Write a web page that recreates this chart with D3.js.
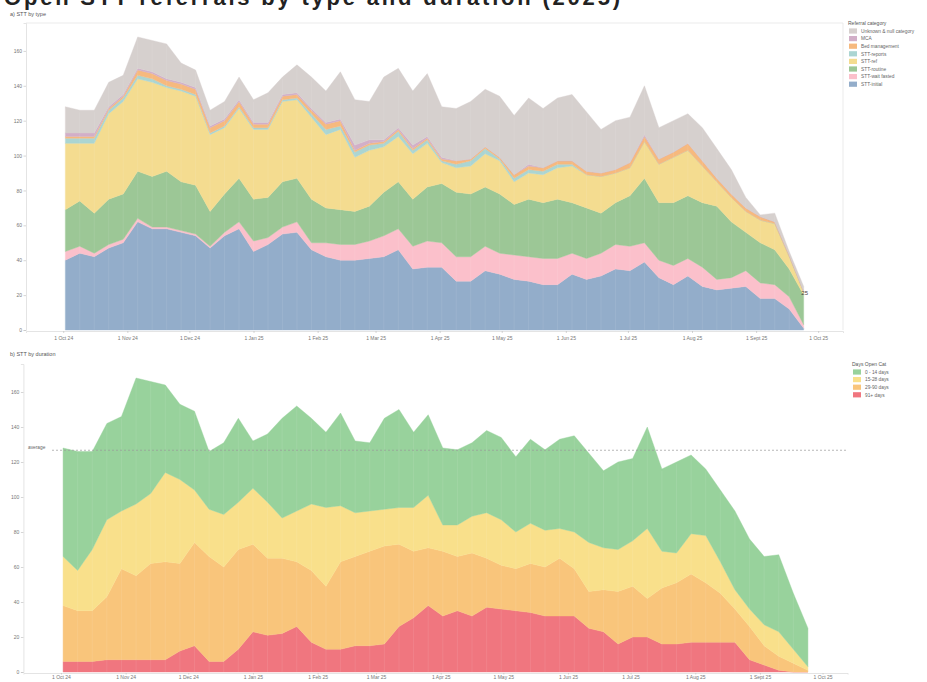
<!DOCTYPE html>
<html>
<head>
<meta charset="utf-8">
<script src="https://cdn.jsdelivr.net/npm/d3@7"></script>
<style>
  html, body { margin: 0; padding: 0; background: #fff; }
  svg { display: block; font-family: "Liberation Sans", Arial, sans-serif; }
</style>
</head>
<body>
<svg id="chart" width="927" height="682"></svg>
<script>
// Week-ending snapshots of open STT referrals
const weeks = [
  "2024-10-02","2024-10-09","2024-10-16","2024-10-23","2024-10-30",
  "2024-11-06","2024-11-13","2024-11-20","2024-11-27",
  "2024-12-04","2024-12-11","2024-12-18","2024-12-25",
  "2025-01-01","2025-01-08","2025-01-15","2025-01-22","2025-01-29",
  "2025-02-05","2025-02-12","2025-02-19","2025-02-26",
  "2025-03-05","2025-03-12","2025-03-19","2025-03-26",
  "2025-04-02","2025-04-09","2025-04-16","2025-04-23","2025-04-30",
  "2025-05-07","2025-05-14","2025-05-21","2025-05-28",
  "2025-06-04","2025-06-11","2025-06-18","2025-06-25",
  "2025-07-02","2025-07-09","2025-07-16","2025-07-23","2025-07-30",
  "2025-08-06","2025-08-13","2025-08-20","2025-08-27",
  "2025-09-03","2025-09-10","2025-09-17","2025-09-24"
];

// a) by referral category
const sttInitial     = [40,44,42,47,50,62,58,58,56,54,47,54,58,45,49,55,56,46,42,40,40,41,42,46,35,36,36,28,28,34,32,29,28,26,26,32,29,31,35,34,39,30,26,31,25,23,24,25,18,18,12,1];
const sttWaitFasted  = [5,4,2,2,2,2,1,1,1,1,1,2,4,6,4,4,6,4,8,9,9,10,12,12,13,15,14,14,14,14,12,14,14,15,15,12,12,13,14,14,11,10,11,10,11,6,6,9,9,8,7,2];
const sttRoutine     = [24,26,23,26,26,27,29,32,28,28,20,22,25,24,23,26,25,25,20,20,19,20,25,27,27,31,34,37,36,34,34,29,33,32,34,29,29,23,24,29,37,33,36,36,37,42,32,22,23,20,16,17];
const sttRef         = [38,33,40,49,53,53,54,48,52,51,44,38,40,40,39,46,45,47,42,46,31,32,26,26,26,25,12,14,16,19,19,13,15,16,18,21,19,21,17,16,21,22,26,26,21,14,14,12,13,15,7,2];
const sttReports     = [3,3,3,2,2,2,2,1,1,1,1,1,1,1,1,1,1,2,3,2,3,3,2,3,2,2,1,2,3,3,1,2,2,2,2,1,0,0,0,0,0,0,0,0,0,0,0,0,0,0,0,0];
const bedManagement  = [1,1,1,1,1,3,3,3,3,3,3,3,3,2,2,2,2,2,3,3,1,1,1,1,1,1,1,2,1,1,1,2,2,2,2,2,2,2,2,3,3,3,3,4,3,2,2,2,2,1,1,0];
const mca            = [2,2,2,1,1,1,1,1,1,1,1,1,1,1,1,1,1,1,1,1,3,2,1,1,2,1,1,0,0,0,0,0,1,0,0,0,0,0,0,0,1,0,0,0,0,0,0,0,0,0,0,0];
const unknownNull    = [15,13,13,14,11,18,18,20,11,10,9,10,13,13,17,10,16,18,18,27,26,22,36,34,31,36,29,30,33,33,35,34,38,34,36,38,34,25,28,26,28,18,18,17,19,17,14,6,1,5,2,3];

const typeNames  = ["STT-initial","STT-wait fasted","STT-routine","STT-ref","STT-reports","Bed management","MCA","Unknown & null category"];
const typeColors = ["#93adca","#fbc0cb","#9cc796","#f4dc90","#abd5d2","#f6b97e","#d2afc8","#d6d0ce"];

// b) by days open
const days91plus  = [6,6,6,7,7,7,7,7,12,15,6,6,13,23,21,22,26,17,13,13,15,15,16,26,31,38,32,35,32,37,36,35,34,32,32,32,25,23,16,20,20,16,16,17,17,17,17,7,4,1,0,0];
const days29to90  = [32,29,29,36,52,48,55,56,50,59,60,54,57,50,44,43,37,41,36,50,51,54,56,47,38,33,37,31,36,28,25,24,28,28,33,27,21,24,30,29,22,32,35,39,34,28,19,19,11,8,5,1];
const days15to28  = [28,23,35,44,33,41,40,51,48,30,27,30,27,32,32,23,29,38,45,32,25,23,21,21,25,30,15,18,21,26,26,21,23,21,17,21,28,24,24,26,40,21,17,23,27,18,11,10,12,14,8,2];
const days0to14   = [62,68,56,55,54,72,64,50,43,45,33,41,48,27,39,57,60,49,43,53,41,39,52,56,43,46,44,43,42,47,47,43,48,46,51,55,51,44,50,47,58,47,52,45,38,41,45,40,39,44,32,22];

const durationNames  = ["91+ days","29-90 days","15-28 days","0 - 14 days"];
const durationColors = ["#f0767f","#f9c57b","#f9e08b","#98d29c"];

const yTicks = [0,20,40,60,80,100,120,140,160];
const xTickDates  = ["2024-10-01","2024-11-01","2024-12-01","2025-01-01","2025-02-01","2025-03-01","2025-04-01","2025-05-01","2025-06-01","2025-07-01","2025-08-01","2025-09-01","2025-10-01"];
const xTickLabels = ["1 Oct 24","1 Nov 24","1 Dec 24","1 Jan 25","1 Feb 25","1 Mar 25","1 Apr 25","1 May 25","1 Jun 25","1 Jul 25","1 Aug 25","1 Sept 25","1 Oct 25"];

const parse = d3.utcParse("%Y-%m-%d");
const dates = weeks.map(parse);
const tickDates = xTickDates.map(parse);
const svg = d3.select("#chart");

// Heading (runs off the top edge)
svg.append("text")
  .attr("x", 4).attr("y", 5)
  .attr("font-size", 22).attr("font-weight", 600).attr("fill", "#222")
  .attr("textLength", 616).attr("lengthAdjust", "spacing")
  .text("Open STT referrals by type and duration (2025)");

function drawPanel(opt) {
  const g = svg.append("g");
  const x = d3.scaleUtc().domain([parse("2024-09-13"), parse("2025-10-13")]).range(opt.xRange);
  const y = d3.scaleLinear().domain([0, 176]).range(opt.yRange);

  const rows = dates.map((d, i) => {
    const r = { date: d };
    opt.series.forEach((s, k) => r[k] = s[i]);
    return r;
  });
  const keys = opt.series.map((s, k) => k);
  const stacked = d3.stack().keys(keys)(rows);

  const area = d3.area()
    .x(d => x(d.data.date))
    .y0(d => y(d[0]))
    .y1(d => y(d[1]));

  if (opt.frame) {
    g.append("path")
      .attr("d", `M${opt.xRange[0]},${opt.yRange[1]}H${opt.xRange[1]}V${opt.yRange[0]}`)
      .attr("fill", "none").attr("stroke", "#e6e6e6").attr("stroke-width", 0.8);
  }

  g.selectAll("path.layer").data(stacked).join("path")
    .attr("class", "layer")
    .attr("d", area)
    .attr("fill", (d, k) => opt.colors[k])
    .attr("stroke", (d, k) => opt.colors[k])
    .attr("stroke-width", 0.4);

  // faint seams between weekly segments
  const top = stacked[stacked.length - 1];
  g.selectAll("line.seam").data(top).join("line")
    .attr("class", "seam")
    .attr("x1", d => x(d.data.date)).attr("x2", d => x(d.data.date))
    .attr("y1", y(0)).attr("y2", d => y(d[1]) + 2)
    .attr("stroke", "#fff").attr("stroke-opacity", 0.15).attr("stroke-width", 0.6);

  // axes
  const ay = g.append("g").attr("transform", `translate(${opt.xRange[0]},0)`)
    .call(d3.axisLeft(y).tickValues(yTicks).tickSize(2.5).tickPadding(1.5));
  const ax = g.append("g").attr("transform", `translate(0,${opt.yRange[0] + 1})`)
    .call(d3.axisBottom(x).tickValues(tickDates).tickSize(opt.xTickSize)
      .tickFormat((d, i) => xTickLabels[i]).tickPadding(opt.xTickPad));
  [ay, ax].forEach(a => {
    a.select(".domain").attr("stroke", "#ddd").attr("stroke-width", 0.8);
    a.selectAll(".tick line").attr("stroke", "#bbb").attr("stroke-width", 0.6);
    a.selectAll(".tick text").attr("fill", "#777").attr("font-size", 5);
  });

  g.append("text").attr("x", 10).attr("y", opt.titleY)
    .attr("font-size", 5.5).attr("fill", "#555").text(opt.title);

  // legend
  const lg = g.append("g").attr("transform", `translate(${opt.legendX},${opt.legendY})`);
  lg.append("text").attr("x", 0).attr("y", 0)
    .attr("font-size", 5).attr("fill", "#555").text(opt.legendTitle);
  const items = opt.names.map((n, k) => ({ n, c: opt.colors[k] })).reverse();
  items.forEach((it, j) => {
    const yy = 6 + j * 7.6;
    lg.append("rect").attr("x", 1).attr("y", yy - 2.6).attr("width", 8).attr("height", 5.2).attr("fill", it.c);
    lg.append("text").attr("x", 13).attr("y", yy + 1.7)
      .attr("font-size", 4.8).attr("fill", "#666").text(it.n);
  });

  return { x, y, rows, stacked };
}

// a) by type
const pa = drawPanel({
  series: [sttInitial, sttWaitFasted, sttRoutine, sttRef, sttReports, bedManagement, mca, unknownNull],
  names: typeNames, colors: typeColors,
  xRange: [26, 843], yRange: [330, 23],
  xTickSize: 2, xTickPad: 3,
  title: "a) STT by type", titleY: 16,
  legendTitle: "Referral category", legendX: 848, legendY: 25,
  frame: true
});
const totals = dates.map((d, i) => pa.stacked[pa.stacked.length - 1][i][1]);
const lastIdx = dates.length - 1;
svg.append("text")
  .attr("x", pa.x(dates[lastIdx]) + 1).attr("y", pa.y(totals[lastIdx]) + 9)
  .attr("text-anchor", "middle").attr("font-size", 6).attr("fill", "#444")
  .text(totals[lastIdx]);

// b) by duration
const pb = drawPanel({
  series: [days91plus, days29to90, days15to28, days0to14],
  names: durationNames, colors: durationColors,
  xRange: [23.4, 847.6], yRange: [672, 364],
  xTickSize: 1.5, xTickPad: 1,
  title: "b) STT by duration", titleY: 356,
  legendTitle: "Days Open Cat", legendX: 852, legendY: 366,
  frame: false
});
const avg = d3.mean(dates.map((d, i) => days91plus[i] + days29to90[i] + days15to28[i] + days0to14[i]));
svg.append("line")
  .attr("x1", 52).attr("x2", 846)
  .attr("y1", pb.y(avg)).attr("y2", pb.y(avg))
  .attr("stroke", "#999").attr("stroke-width", 0.7).attr("stroke-dasharray", "2,2");
svg.append("text").attr("x", 28).attr("y", pb.y(avg) - 1.5)
  .attr("font-size", 4.8).attr("fill", "#666").text("average");
</script>
</body>
</html>
